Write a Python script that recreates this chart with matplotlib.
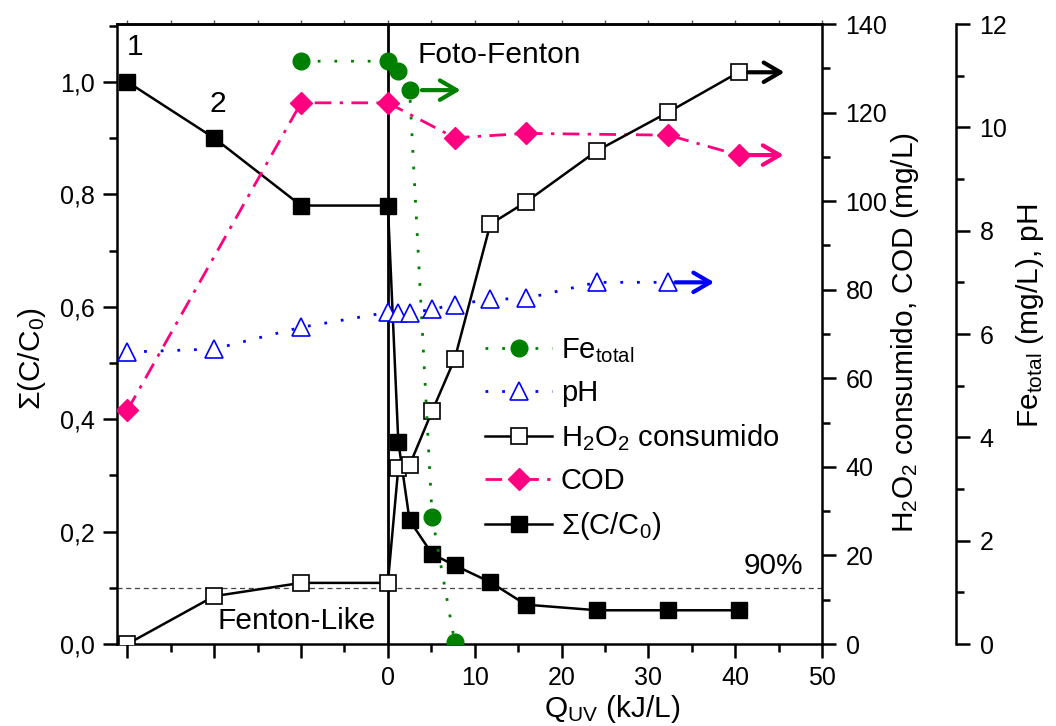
import matplotlib
matplotlib.use('Agg')
import matplotlib.pyplot as plt
from matplotlib.ticker import FixedLocator, FuncFormatter, MultipleLocator, NullFormatter

plt.rcParams['font.family'] = ['Liberation Sans', 'DejaVu Sans']
plt.rcParams['mathtext.fontset'] = 'custom'
plt.rcParams['mathtext.rm'] = 'Liberation Sans'
plt.rcParams['mathtext.it'] = 'Liberation Sans:italic'
plt.rcParams['mathtext.bf'] = 'Liberation Sans:bold'

# sum(C/C0) - left axis
q_sum = [-30, -20, -10, 0, 1.2, 2.5, 5.1, 7.7, 11.8, 15.9, 24.1, 32.3, 40.4]
sum_cc0 = [1.0, 0.9, 0.78, 0.78, 0.36, 0.22, 0.16, 0.14, 0.11, 0.07, 0.06, 0.06, 0.06]

# H2O2 consumido (mg/L) - right axis
q_h2o2 = [-30, -20, -10, 0, 1.2, 2.5, 5.1, 7.7, 11.8, 15.9, 24.1, 32.3, 40.4]
h2o2 = [0, 10.8, 13.8, 13.8, 39.8, 40.4, 52.6, 64.4, 94.8, 99.8, 111.4, 120.1, 129.1]

# COD (mg/L) - right axis
q_cod = [-30, -10, 0, 7.7, 15.9, 32.3, 40.4]
cod = [52.8, 122.2, 122.2, 114.3, 115.3, 114.9, 110.4]

# Fe total (mg/L) - outer right axis
q_fe = [-10, 0, 1.2, 2.5, 5.1, 7.7]
fe = [11.28, 11.28, 11.09, 10.73, 2.46, 0.03]

# pH - outer right axis
q_ph = [-30, -20, -10, 0, 1.2, 2.5, 5.1, 7.7, 11.8, 15.9, 24.1, 32.3]
ph = [5.65, 5.71, 6.13, 6.42, 6.4, 6.4, 6.48, 6.57, 6.67, 6.69, 7.0, 7.0]

x_major = [-30, -20, -10, 0, 10, 20, 30, 40, 50]
x_minor = [-25, -15, -5, 5, 15, 25, 35, 45]

green = '#008000'
pink = '#FF0080'
blue = '#0000FF'
TICK = 18
BIG = 21.5

fig = plt.figure(figsize=(10.56, 7.26), dpi=100)
ax = fig.add_axes([117/1056, 82/726, 705/1056, 620/726])
ax2 = ax.twinx()
ax3 = ax.twinx()
ax3.spines['right'].set_position(('axes', 1.190))

for a in (ax, ax2, ax3):
    for s in a.spines.values():
        s.set_linewidth(1.8)
for a in (ax2, ax3):
    a.spines['left'].set_visible(False)
    a.spines['top'].set_visible(False)
    a.spines['bottom'].set_visible(False)
ax.spines['right'].set_visible(False)

# main axis: sum(C/C0)
l_sum, = ax.plot(q_sum, sum_cc0, '-', color='black', lw=1.8, marker='s', ms=11,
                 mfc='black', mec='black', zorder=3, label='Σ(C/C$_0$)')
ax.axvline(0, color='black', lw=2, zorder=2)
ax.axhline(0.1, color='#444444', lw=0.9, ls=(0, (4, 3)), zorder=1)

ax.set_xlim(-31.2, 50)
ax.set_ylim(0, 1.103)
ax.xaxis.set_major_locator(FixedLocator(x_major))
ax.xaxis.set_minor_locator(FixedLocator(x_minor))
ax.xaxis.set_major_formatter(FuncFormatter(lambda v, p: '' if v < 0 else '%d' % v))
ax.yaxis.set_major_locator(MultipleLocator(0.2))
ax.yaxis.set_minor_locator(MultipleLocator(0.1))
ax.yaxis.set_major_formatter(FuncFormatter(lambda v, p: ('%.1f' % v).replace('.', ',')))
ax.tick_params(axis='both', which='major', direction='out', length=10, width=1.8,
               labelsize=TICK)
ax.tick_params(axis='both', which='minor', direction='out', length=6, width=1.8)
ax.tick_params(axis='x', which='major', pad=6)
ax.tick_params(axis='y', which='major', pad=6)

# small ticks on the top edge
top = ax.secondary_xaxis('top')
top.xaxis.set_major_locator(FixedLocator(x_major + x_minor))
top.xaxis.set_major_formatter(NullFormatter())
top.tick_params(direction='out', length=3, width=1, color='#555555')
top.spines['top'].set_linewidth(1.8)

ax.set_xlabel('Q$_{\\mathrm{UV}}$ (kJ/L)', fontsize=BIG)
ax.xaxis.set_label_coords(0.702, -0.079)
ax.set_ylabel('Σ(C/C$_0$)', fontsize=BIG)
ax.yaxis.set_label_coords(-0.098, 0.46)

ax.text(-29.1, 1.062, '1', fontsize=BIG, ha='center', va='center')
ax.text(-19.6, 0.96, '2', fontsize=BIG, ha='center', va='center')
ax.text(3.4, 1.048, 'Foto-Fenton', fontsize=BIG, ha='left', va='center')
ax.text(-1.4, 0.041, 'Fenton-Like', fontsize=BIG, ha='right', va='center')
ax.text(41.0, 0.139, '90%', fontsize=BIG, ha='left', va='center')

# H2O2 and COD axis
l_cod, = ax2.plot(q_cod, cod, color=pink, lw=2, ls=(0, (6, 3, 1.2, 3)), marker='D',
                  ms=11, mfc=pink, mec=pink, label='COD')
l_h2o2, = ax2.plot(q_h2o2, h2o2, '-', color='black', lw=1.8, marker='s', ms=11,
                   mfc='white', mec='black', mew=1.2, label='H$_2$O$_2$ consumido')
ax2.set_ylim(0, 140)
ax2.yaxis.set_major_locator(MultipleLocator(20))
ax2.yaxis.set_minor_locator(MultipleLocator(10))
ax2.tick_params(axis='y', which='major', direction='out', length=10, width=1.8,
                labelsize=TICK, pad=7)
ax2.tick_params(axis='y', which='minor', direction='out', length=6, width=1.8)
ax2.set_ylabel('H$_2$O$_2$ consumido, COD (mg/L)', fontsize=BIG)
ax2.yaxis.set_label_coords(1.095, 0.503)

arrow = '->,head_length=0.6,head_width=0.35'
ax2.annotate('', xy=(46.0, 129.1), xytext=(41.2, 129.1),
             arrowprops=dict(arrowstyle=arrow, color='black', lw=3, mutation_scale=20))
ax2.annotate('', xy=(45.9, 110.4), xytext=(40.9, 110.4),
             arrowprops=dict(arrowstyle=arrow, color=pink, lw=3, mutation_scale=20))

# Fe and pH axis
l_fe, = ax3.plot(q_fe, fe, color=green, lw=2, ls=(0, (1, 5)), marker='o', ms=12,
                 mfc=green, mec=green, label='Fe$_{\\mathrm{total}}$')
l_ph, = ax3.plot(q_ph, ph, color=blue, lw=2, ls=(0, (1, 5)), marker='^', ms=13,
                 mfc='white', mec=blue, mew=1.2, label='pH')
ax3.set_ylim(0, 12)
ax3.yaxis.set_major_locator(MultipleLocator(2))
ax3.yaxis.set_minor_locator(MultipleLocator(1))
ax3.tick_params(axis='y', which='major', direction='out', length=10, width=1.8,
                labelsize=TICK, pad=7)
ax3.tick_params(axis='y', which='minor', direction='out', length=6, width=1.8)
ax3.set_ylabel('Fe$_{\\mathrm{total}}$ (mg/L), pH', fontsize=BIG)
ax3.yaxis.set_label_coords(1.272, 0.53)

ax3.annotate('', xy=(8.7, 10.72), xytext=(3.6, 10.72),
             arrowprops=dict(arrowstyle=arrow, color=green, lw=3, mutation_scale=20))
ax3.annotate('', xy=(37.9, 7.0), xytext=(32.8, 7.0),
             arrowprops=dict(arrowstyle=arrow, color=blue, lw=3, mutation_scale=20))

ax3.legend([l_fe, l_ph, l_h2o2, l_cod, l_sum],
           [h.get_label() for h in [l_fe, l_ph, l_h2o2, l_cod, l_sum]],
           loc='upper left', bbox_to_anchor=(485/1056, 1 - 336/726),
           bbox_transform=fig.transFigure, frameon=False, fontsize=21,
           handlelength=2.3, handletextpad=0.3, labelspacing=0.5,
           borderpad=0, borderaxespad=0, numpoints=1)

fig.savefig('out.png', dpi=100)
